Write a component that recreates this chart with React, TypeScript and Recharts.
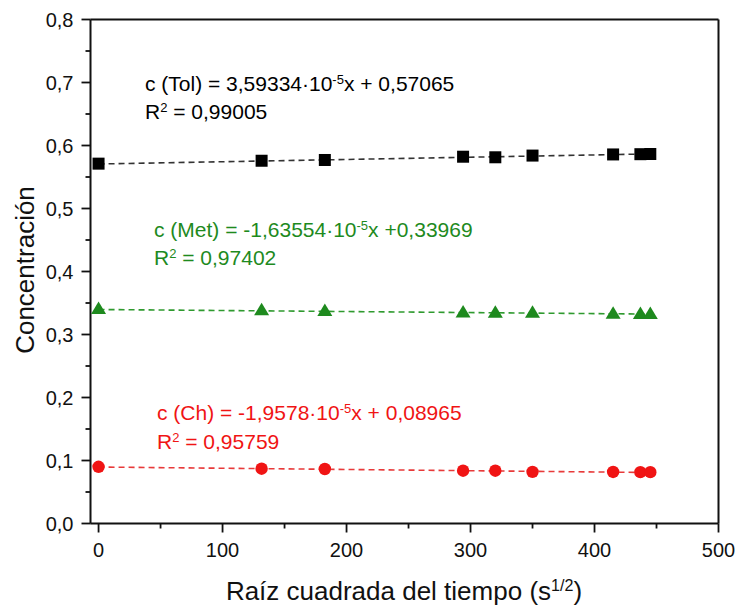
import React from "react";
import { ScatterChart, Scatter, XAxis, YAxis } from "recharts";

// raíz cuadrada del tiempo (s^1/2)
const TIEMPO = [0, 131.5, 182.5, 294, 320, 350, 415, 437, 445];
const TOL = [0.5712, 0.5758, 0.577, 0.5822, 0.5813, 0.584, 0.5858, 0.5862, 0.5865];
const MET = [0.3405, 0.3385, 0.3375, 0.335, 0.3345, 0.3345, 0.333, 0.3325, 0.3325];
const CH = [0.09, 0.087, 0.0865, 0.0838, 0.0838, 0.082, 0.0818, 0.0815, 0.0815];

// ajustes lineales: pendiente, ordenada
const FIT_TOL = { m: 3.59334e-5, b: 0.57065 };
const FIT_MET = { m: -1.63554e-5, b: 0.33969 };
const FIT_CH = { m: -1.9578e-5, b: 0.08965 };

const X_MAJOR = [0, 100, 200, 300, 400, 500];
const X_TICKS = [0, 50, 100, 150, 200, 250, 300, 350, 400, 450, 500];
const Y_MAJOR = [0, 0.1, 0.2, 0.3, 0.4, 0.5, 0.6, 0.7, 0.8];
const Y_TICKS = [0, 0.05, 0.1, 0.15, 0.2, 0.25, 0.3, 0.35, 0.4, 0.45, 0.5, 0.55, 0.6, 0.65, 0.7, 0.75, 0.8];
const TOP_TICKS = [1, 2, 3, 4, 5, 6, 7, 8];

const W = 738;
const H = 607;
const FONT = '"Liberation Sans", Arial, sans-serif';
const INK = "#111";
const GREEN = "#1e8a1e";
const RED = "#f01414";

const toPoints = (ys: number[]) => TIEMPO.map((x, i) => ({ x, y: ys[i] }));
const fitLine = (f: { m: number; b: number }) => {
  const x0 = TIEMPO[0];
  const x1 = TIEMPO[TIEMPO.length - 1];
  return [
    { x: x0, y: f.m * x0 + f.b },
    { x: x1, y: f.m * x1 + f.b },
  ];
};

const isMajor = (list: number[], v: number) => list.some((m) => Math.abs(m - v) < 1e-9);
const fmt = (v: number, d: number) => v.toFixed(d).replace(".", ",");

const LeftTick = (p: any) => {
  const v = p.payload.value;
  const major = isMajor(Y_MAJOR, v);
  return (
    <g>
      <line x1={p.x - (major ? 9 : 5)} x2={p.x} y1={p.y} y2={p.y} stroke={INK} strokeWidth={1.8} />
      {major && (
        <text x={p.x - 17} y={p.y} dy="0.36em" textAnchor="end" fontSize={20} fontFamily={FONT} fill={INK}>
          {fmt(v, 1)}
        </text>
      )}
    </g>
  );
};

const RightTick = (p: any) => {
  const major = isMajor(Y_MAJOR, p.payload.value);
  return <line x1={p.x - (major ? 9 : 5)} x2={p.x} y1={p.y} y2={p.y} stroke={INK} strokeWidth={1.8} />;
};

const BottomTick = (p: any) => {
  const v = p.payload.value;
  const major = isMajor(X_MAJOR, v);
  return (
    <g>
      <line x1={p.x} x2={p.x} y1={p.y} y2={p.y + (major ? 9 : 5)} stroke={INK} strokeWidth={1.8} />
      {major && (
        <text x={p.x} y={p.y + 26} dy="0.36em" textAnchor="middle" fontSize={20} fontFamily={FONT} fill={INK}>
          {fmt(v, 0)}
        </text>
      )}
    </g>
  );
};

const TopTick = (p: any) => {
  const major = p.payload.value % 2 === 0;
  return <line x1={p.x} x2={p.x} y1={p.y} y2={p.y + (major ? 9 : 5)} stroke={INK} strokeWidth={1.8} />;
};

const Square = (p: any) => <rect x={p.cx - 6} y={p.cy - 6} width={12} height={12} fill="#000" />;
const Triangle = (p: any) => (
  <polygon points={`${p.cx},${p.cy - 7.5} ${p.cx - 7.5},${p.cy + 5} ${p.cx + 7.5},${p.cy + 5}`} fill={GREEN} />
);
const Dot = (p: any) => <circle cx={p.cx} cy={p.cy} r={6.2} fill={RED} />;
const NoMark = () => <g />;

const sup: React.CSSProperties = { fontSize: "0.62em", position: "relative", top: "-0.55em", lineHeight: 0 };

const Note = ({ left, top, color, children }: any) => (
  <div
    style={{
      position: "absolute",
      left,
      top: top - 13,
      height: 26,
      lineHeight: "26px",
      fontSize: 21,
      fontFamily: FONT,
      color,
      whiteSpace: "nowrap",
    }}
  >
    {children}
  </div>
);

export default function App() {
  return (
    <div style={{ position: "relative", width: W, height: H, background: "#fff" }}>
      <style>{`body{margin:0}`}</style>
      <ScatterChart width={W} height={H} margin={{ top: 18.5, right: 18.5, left: 0, bottom: 0 }}>
        <XAxis
          dataKey="x"
          type="number"
          domain={[-6.5, 500]}
          ticks={X_TICKS}
          allowDataOverflow
          height={83.5}
          axisLine={{ stroke: INK, strokeWidth: 2 }}
          tickLine={false}
          tickSize={0}
          tickMargin={0}
          tick={BottomTick}
          interval={0}
        />
        <XAxis
          xAxisId="top"
          orientation="top"
          type="number"
          domain={[0, 9]}
          ticks={TOP_TICKS}
          height={1}
          axisLine={{ stroke: INK, strokeWidth: 2 }}
          tickLine={false}
          tickSize={0}
          tickMargin={0}
          tick={TopTick}
          interval={0}
        />
        <YAxis
          dataKey="y"
          type="number"
          domain={[0, 0.8]}
          ticks={Y_TICKS}
          allowDataOverflow
          width={90.5}
          axisLine={{ stroke: INK, strokeWidth: 2 }}
          tickLine={false}
          tickSize={0}
          tickMargin={0}
          tick={LeftTick}
          interval={0}
        />
        <YAxis
          yAxisId="right"
          orientation="right"
          type="number"
          domain={[0, 0.8]}
          ticks={Y_TICKS}
          width={1}
          axisLine={{ stroke: INK, strokeWidth: 2 }}
          tickLine={false}
          tickSize={0}
          tickMargin={0}
          tick={RightTick}
          interval={0}
        />

        <Scatter data={fitLine(FIT_TOL)} shape={NoMark} line={{ stroke: "#333", strokeWidth: 1.6, strokeDasharray: "6 4" }} isAnimationActive={false} />
        <Scatter data={fitLine(FIT_MET)} shape={NoMark} line={{ stroke: "#2f9a2f", strokeWidth: 1.6, strokeDasharray: "6 4" }} isAnimationActive={false} />
        <Scatter data={fitLine(FIT_CH)} shape={NoMark} line={{ stroke: "#e83a3a", strokeWidth: 1.6, strokeDasharray: "6 4" }} isAnimationActive={false} />

        <Scatter data={toPoints(TOL)} shape={Square} isAnimationActive={false} />
        <Scatter data={toPoints(MET)} shape={Triangle} isAnimationActive={false} />
        <Scatter data={toPoints(CH)} shape={Dot} isAnimationActive={false} />
      </ScatterChart>

      <Note left={145} top={84} color="#000">
        c (Tol) = 3,59334·10<span style={sup}>-5</span>x + 0,57065
      </Note>
      <Note left={145} top={112} color="#000">
        R<span style={sup}>2</span> = 0,99005
      </Note>

      <Note left={154} top={230} color={GREEN}>
        c (Met) = -1,63554·10<span style={sup}>-5</span>x +0,33969
      </Note>
      <Note left={154} top={258} color={GREEN}>
        R<span style={sup}>2</span> = 0,97402
      </Note>

      <Note left={157} top={413} color={RED}>
        c (Ch) = -1,9578·10<span style={sup}>-5</span>x + 0,08965
      </Note>
      <Note left={157} top={442} color={RED}>
        R<span style={sup}>2</span> = 0,95759
      </Note>

      <div
        style={{
          position: "absolute",
          left: 404,
          top: 591,
          transform: "translate(-50%, -50%)",
          fontSize: 26,
          fontFamily: FONT,
          color: INK,
          whiteSpace: "nowrap",
          lineHeight: "30px",
        }}
      >
        Raíz cuadrada del tiempo (s<span style={sup}>1/2</span>)
      </div>
      <div
        style={{
          position: "absolute",
          left: 25,
          top: 270,
          transform: "translate(-50%, -50%) rotate(-90deg)",
          fontSize: 26,
          fontFamily: FONT,
          color: INK,
          whiteSpace: "nowrap",
          lineHeight: "30px",
        }}
      >
        Concentración
      </div>
    </div>
  );
}
